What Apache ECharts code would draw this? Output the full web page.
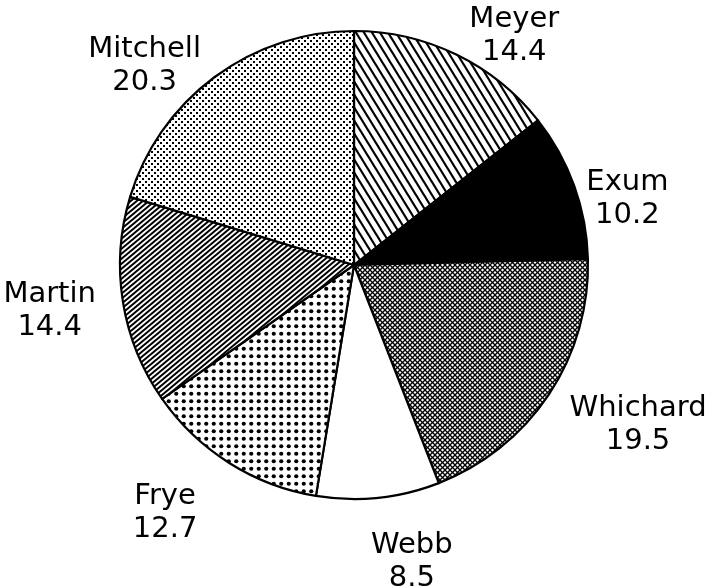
<!DOCTYPE html>
<html><head><meta charset="utf-8">
<script src="https://cdn.jsdelivr.net/npm/echarts@6/dist/echarts.min.js"></script>
<style>html,body{margin:0;padding:0;background:#fff}#c{width:712px;height:588px}</style>
</head><body><div id="c"></div>
<script>
const names = ['Meyer', 'Exum', 'Whichard', 'Webb', 'Frye', 'Martin', 'Mitchell'];
const values = [14.4, 10.2, 19.5, 8.5, 12.7, 14.4, 20.3];
// small label nudges (pixels) away from each slice's mid-angle
const labelNudge = [[30, 39], [-7, 35], [36, -5], [27, 1], [-30, -4], [-10, -1], [-32, 40]];

function tile(w, h, draw) {
  const c = document.createElement('canvas');
  c.width = w; c.height = h;
  const g = c.getContext('2d');
  g.fillStyle = '#fff'; g.fillRect(0, 0, w, h);
  g.fillStyle = '#000'; g.strokeStyle = '#000';
  draw(g, w, h);
  return { image: c, repeat: 'repeat' };
}
function back(g, w, h, lw) { // "\" lines
  g.lineWidth = lw;
  for (let k = -2; k <= 2; k++) { g.beginPath(); g.moveTo(k * w - w, -h); g.lineTo(k * w + 2 * w, 2 * h); g.stroke(); }
}
function fwd(g, w, h, lw) { // "/" lines
  g.lineWidth = lw;
  for (let k = -2; k <= 2; k++) { g.beginPath(); g.moveTo(k * w - w, 2 * h); g.lineTo(k * w + 2 * w, -h); g.stroke(); }
}
const fills = [
  tile(8, 13, (g, w, h) => back(g, w, h, 2.2)),
  '#000',
  tile(5, 5, (g, w, h) => { back(g, w, h, 1.3); fwd(g, w, h, 1.3); }),
  '#fff',
  tile(15, 15, (g) => { [[3.75, 3.75], [11.25, 3.75], [3.75, 11.25], [11.25, 11.25]].forEach(p => { g.beginPath(); g.arc(p[0], p[1], 2.1, 0, Math.PI * 2); g.fill(); }); }),
  tile(6, 5, (g, w, h) => fwd(g, w, h, 2)),
  tile(6, 6, (g) => { g.fillRect(1, 1, 2, 2); g.fillRect(4, 4, 2, 2); })
];

const chart = echarts.init(document.getElementById('c'), null, { renderer: 'canvas' });
const pieData = names.map((n, i) => ({ name: n, value: values[i] }));
chart.setOption({
  animation: false,
  backgroundColor: '#fff',
  series: [
    {
      type: 'pie', center: [354, 265], radius: 234, startAngle: 90, clockwise: true,
      silent: true, avoidLabelOverlap: false,
      label: { show: false }, labelLine: { show: false },
      itemStyle: { borderColor: '#000', borderWidth: 2.2 },
      data: pieData.map((d, i) => ({ name: d.name, value: d.value, itemStyle: { color: fills[i] } }))
    },
    {
      type: 'pie', center: [354, 265], radius: [275, 315], startAngle: 90, clockwise: true,
      silent: true, avoidLabelOverlap: false,
      itemStyle: { color: 'rgba(0,0,0,0)', borderWidth: 0 },
      label: {
        show: true, position: 'inside', formatter: '{b}\n{c}', color: '#000',
        fontFamily: 'DejaVu Sans', fontSize: 29, lineHeight: 33, rotate: 0
      },
      labelLine: { show: false },
      labelLayout: p => ({ dx: labelNudge[p.dataIndex][0], dy: labelNudge[p.dataIndex][1] }),
      data: pieData
    }
  ]
});
</script>
</body></html>
